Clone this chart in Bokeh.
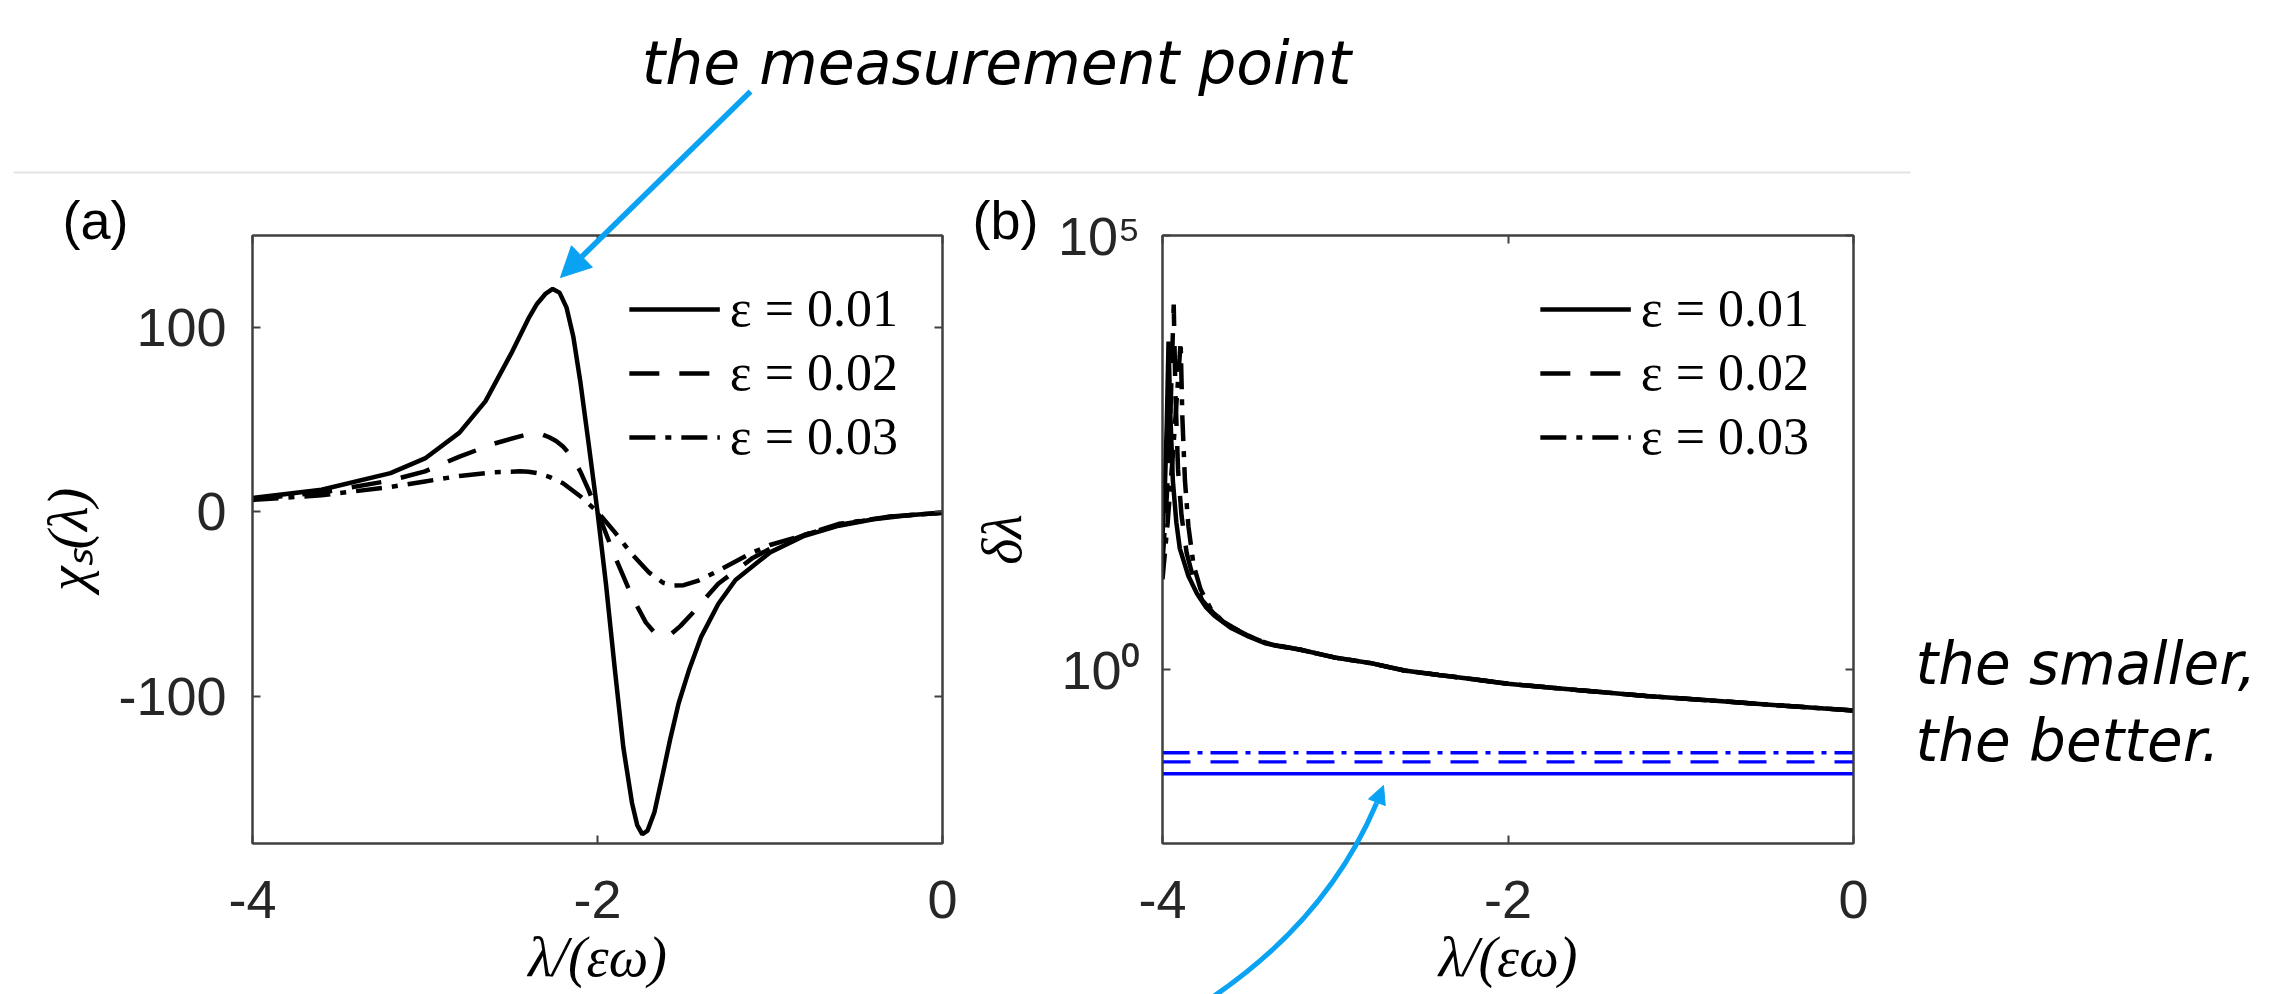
from bokeh.plotting import figure
from bokeh.layouts import column, row
from bokeh.models import (Range1d, LinearAxis, LogAxis, FixedTicker, Label, Arrow, NormalHead)
from bokeh.embed import file_html
from bokeh.resources import INLINE

# ---------------- data ----------------
legend_labels = ["ε = 0.01", "ε = 0.02", "ε = 0.03"]

# panel (a): chi_s(lambda)
lam_a_001 = [-4.0, -3.6, -3.2, -3.0, -2.8, -2.65, -2.5, -2.4, -2.35, -2.3, -2.26, -2.22, -2.18,
             -2.14, -2.1, -2.05, -2.0, -1.95, -1.9, -1.85, -1.8, -1.77, -1.74, -1.71, -1.67,
             -1.63, -1.58, -1.53, -1.47, -1.4, -1.3, -1.2, -1.0, -0.8, -0.6, -0.4, -0.2, 0.0]
chi_a_001 = [7.5, 12, 21, 29, 43, 60, 86, 105, 113, 118.5, 121, 119, 111,
             95, 71, 36, 0, -40, -85, -128, -158, -170, -175, -173, -163,
             -146, -124, -104, -86, -68, -50, -37, -22, -13, -7.5, -4, -1.8, -0.5]

lam_a_002 = [-4.0, -3.6, -3.2, -3.0, -2.8, -2.6, -2.45, -2.4, -2.36, -2.32, -2.28, -2.24, -2.2,
             -2.15, -2.1, -2.05, -2.0, -1.9, -1.8, -1.72, -1.67, -1.62, -1.57, -1.52, -1.45,
             -1.3, -1.1, -1.0, -0.8, -0.6, -0.3, 0.0]
chi_a_002 = [7, 10.5, 17, 22, 30, 37, 41, 42.2, 42.5, 42, 40.5, 38.5, 35.5,
             30, 22, 11.5, 0, -24, -46, -60, -65.5, -67, -66, -62, -55,
             -39, -25, -20, -12.5, -7, -2.5, -0.5]

lam_a_003 = [-4.0, -3.6, -3.2, -3.0, -2.8, -2.6, -2.5, -2.45, -2.4, -2.35, -2.28, -2.2, -2.1,
             -2.0, -1.9, -1.8, -1.7, -1.62, -1.56, -1.5, -1.42, -1.3, -1.1, -1.0, -0.8, -0.6,
             -0.3, 0.0]
chi_a_003 = [6.5, 9, 13.5, 16.5, 19.5, 21.5, 21.8, 22, 21.8, 21, 19, 15.5, 8.5,
             0, -11, -23, -33, -38.5, -40, -39.8, -37.5, -32, -22, -18, -12.5, -6.5,
             -2.5, -0.5]

# panel (b): delta lambda (log scale)
lam_b_001 = [-4.0, -3.985, -3.975, -3.965, -3.955, -3.94, -3.92, -3.9, -3.85, -3.8, -3.75, -3.7,
             -3.6, -3.5, -3.4, -3.2, -3.0, -2.8, -2.6, -2.4, -2.2, -2.0, -1.6, -1.2, -0.8, -0.4, 0.0]
dl_b_001 = [35, 150, 700, 6000, 900, 150, 50, 25, 12, 7.5, 5.3, 4.2,
            3.0, 2.4, 2.0, 1.7, 1.38, 1.2, 0.98, 0.87, 0.78, 0.69, 0.585, 0.50, 0.44, 0.385, 0.34]

lam_b_002 = [-4.0, -3.975, -3.955, -3.935, -3.925, -3.91, -3.89, -3.86, -3.82, -3.77, -3.7, -3.6,
             -3.5, -3.4, -3.2, -3.0, -2.8, -2.6, -2.4, -2.2, -2.0, -1.6, -1.2, -0.8, -0.4, 0.0]
dl_b_002 = [17, 100, 800, 16000, 1500, 200, 60, 22, 11, 6.3, 4.4, 3.1,
            2.45, 2.02, 1.7, 1.38, 1.2, 0.98, 0.87, 0.78, 0.69, 0.585, 0.50, 0.44, 0.385, 0.34]

lam_b_003 = [-4.0, -3.97, -3.94, -3.905, -3.895, -3.885, -3.87, -3.85, -3.82, -3.78, -3.72, -3.65,
             -3.55, -3.45, -3.35, -3.2, -3.0, -2.8, -2.6, -2.4, -2.2, -2.0, -1.6, -1.2, -0.8, -0.4, 0.0]
dl_b_003 = [11, 50, 300, 3000, 6000, 800, 150, 45, 16, 8.5, 5.0, 3.6,
            2.75, 2.2, 1.9, 1.7, 1.38, 1.2, 0.98, 0.87, 0.78, 0.69, 0.585, 0.50, 0.44, 0.385, 0.34]

# bounds (blue horizontal lines) in panel (b)
lam_bound = [-4.0, 0.0]
bound_001 = [0.0635, 0.0635]
bound_002 = [0.087, 0.087]
bound_003 = [0.111, 0.111]

# ticks
x_ticks = [-4, -2, 0]
x_tick_labels = ["-4", "-2", "0"]
a_y_ticks = [-100, 0, 100]
a_y_tick_labels = ["-100", "0", "100"]
b_y_ticks = [1, 100000]
b_y_tick_labels = ["10⁰", "10⁵"]

# ---------------- page geometry (pixels) ----------------
PAGE_W, PAGE_H = 2285, 994
FRAME_TOP, FRAME_BOTTOM = 235, 843
A_LEFT, A_RIGHT = 252, 942
SPLIT = 958
B_LEFT, B_RIGHT = 1162, 1853


def a_x(px):
    return -4 + (px - A_LEFT) / (A_RIGHT - A_LEFT) * 4


def a_y(py):
    return 150 - (py - FRAME_TOP) / (FRAME_BOTTOM - FRAME_TOP) * 330


def b_x(px):
    return -4 + (px - B_LEFT) / (B_RIGHT - B_LEFT) * 4


def b_y(py):
    return 10 ** (5 - (py - FRAME_TOP) / (FRAME_BOTTOM - FRAME_TOP) * 7)


# ---------------- styling ----------------
AX_COL = "#404040"
TXT_COL = "#262626"
TICK_FONT = "Liberation Sans"
SERIF = "Liberation Serif"
NOTE_FONT = "DejaVu Sans"
ARROW_COL = "#0AA2F2"
SEP_COL = "#e3e3e3"
BLACK_DASH = ["solid", "30 20", "26 10 6 10"]
BLUE_DASH = ["solid", "28 20", "27 8 5 8"]
LW = 4.5


def style_axis(ax, ticks, labels=None, show_labels=True):
    ax.ticker = FixedTicker(ticks=ticks)
    ax.axis_line_color = AX_COL
    ax.axis_line_width = 2
    ax.major_tick_line_color = AX_COL
    ax.major_tick_line_width = 2
    ax.major_tick_in = 8
    ax.major_tick_out = 0
    ax.minor_tick_line_color = None
    ax.major_label_text_font = TICK_FONT
    if show_labels:
        ax.major_label_text_color = TXT_COL
        ax.major_label_text_font_size = "54px"
        ax.major_label_overrides = {t: l for t, l in zip(ticks, labels)}
    else:
        ax.major_label_text_color = None
        ax.major_label_text_font_size = "2px"
        ax.major_label_standoff = 0


def base_fig(width, left, right, y_range, log=False):
    p = figure(width=width, height=PAGE_H, x_range=Range1d(-4, 0), y_range=y_range,
               y_axis_type="log" if log else "linear", title=None,
               output_backend="svg", toolbar_location=None,
               min_border_left=left, min_border_right=right,
               min_border_top=FRAME_TOP, min_border_bottom=PAGE_H - FRAME_BOTTOM)
    p.grid.visible = False
    p.outline_line_color = AX_COL
    p.outline_line_width = 2
    p.background_fill_color = "white"
    p.border_fill_color = "white"
    return p


def setup_legend(p):
    lg = p.legend[0]
    lg.location = "top_right"
    lg.margin = 44
    lg.padding = 2
    lg.spacing = 5
    lg.glyph_width = 91
    lg.glyph_height = 56
    lg.label_height = 56
    lg.label_standoff = 10
    lg.background_fill_alpha = 0
    lg.border_line_color = None
    lg.label_text_font = SERIF
    lg.label_text_font_size = "52px"
    lg.label_text_color = "black"


def side_label(p, side, x, y, text, font, size, style="normal", align="left", baseline="middle"):
    p.add_layout(Label(x=x, y=y, text=text, text_font=font, text_font_size=size,
                       text_font_style=style, text_align=align, text_baseline=baseline,
                       text_color="black"), side)


# ---------------- panel (a) ----------------
pa = base_fig(SPLIT, A_LEFT, SPLIT - A_RIGHT, Range1d(-180, 150))

style_axis(pa.xaxis[0], x_ticks, x_tick_labels)
pa.xaxis[0].major_label_standoff = 37
ya = pa.yaxis[0]
style_axis(ya, a_y_ticks, a_y_tick_labels)
ya.major_label_standoff = 26
ya.axis_label = "χₛ(λ)"
ya.axis_label_text_font = SERIF
ya.axis_label_text_font_style = "italic"
ya.axis_label_text_font_size = "56px"
ya.axis_label_text_color = "black"
ya.axis_label_standoff = 16

ra = LinearAxis()
style_axis(ra, a_y_ticks, show_labels=False)
pa.add_layout(ra, "right")
ta = LinearAxis()
style_axis(ta, x_ticks, show_labels=False)
pa.add_layout(ta, "above")

for lam, chi, dash, lab in [(lam_a_001, chi_a_001, BLACK_DASH[0], legend_labels[0]),
                            (lam_a_002, chi_a_002, BLACK_DASH[1], legend_labels[1]),
                            (lam_a_003, chi_a_003, BLACK_DASH[2], legend_labels[2])]:
    pa.line(lam, chi, line_color="black", line_width=LW, line_dash=dash, legend_label=lab)
setup_legend(pa)

side_label(pa, "above", a_x(62), a_y(219), "(a)", TICK_FONT, "54px")
side_label(pa, "above", a_x((A_LEFT + A_RIGHT) / 2), a_y(956), "λ/(εω)", SERIF, "56px",
           style="italic", align="center")

# ---------------- panel (b) ----------------
pb = base_fig(PAGE_W - SPLIT, B_LEFT - SPLIT, PAGE_W - B_RIGHT, Range1d(1e-2, 1e5), log=True)

style_axis(pb.xaxis[0], x_ticks, x_tick_labels)
pb.xaxis[0].major_label_standoff = 37
yb = pb.yaxis[0]
style_axis(yb, b_y_ticks, b_y_tick_labels)
yb.major_label_standoff = 22
yb.axis_label = "δλ"
yb.axis_label_text_font = SERIF
yb.axis_label_text_font_style = "italic"
yb.axis_label_text_font_size = "56px"
yb.axis_label_text_color = "black"
yb.axis_label_standoff = 22

rb = LogAxis()
style_axis(rb, b_y_ticks, show_labels=False)
pb.add_layout(rb, "right")
tb = LinearAxis()
style_axis(tb, x_ticks, show_labels=False)
pb.add_layout(tb, "above")

for yv, dash in [(bound_001, BLUE_DASH[0]), (bound_002, BLUE_DASH[1]), (bound_003, BLUE_DASH[2])]:
    pb.line(lam_bound, yv, line_color="#0000FF", line_width=3.4, line_dash=dash)

for lam, dl, dash, lab in [(lam_b_001, dl_b_001, BLACK_DASH[0], legend_labels[0]),
                           (lam_b_002, dl_b_002, BLACK_DASH[1], legend_labels[1]),
                           (lam_b_003, dl_b_003, BLACK_DASH[2], legend_labels[2])]:
    pb.line(lam, dl, line_color="black", line_width=LW, line_dash=dash, legend_label=lab)
setup_legend(pb)

side_label(pb, "above", b_x(972), b_y(219), "(b)", TICK_FONT, "54px")
side_label(pb, "above", b_x((B_LEFT + B_RIGHT) / 2), b_y(956), "λ/(εω)", SERIF, "56px",
           style="italic", align="center")

# ---------------- transparent overlay for the slide annotations (page pixels) ----------------
ov = figure(width=PAGE_W, height=PAGE_H, x_range=Range1d(0, PAGE_W), y_range=Range1d(PAGE_H, 0),
            x_axis_location=None, y_axis_location=None, min_border=0, title=None,
            output_backend="svg", toolbar_location=None,
            styles={"position": "absolute", "left": "0px", "top": "0px",
                    "pointer-events": "none"})
ov.outline_line_color = None
ov.background_fill_color = None
ov.border_fill_color = None
ov.grid.visible = False


def ov_text(x, y, text, size):
    ov.add_layout(Label(x=x, y=y, text=text, text_font=NOTE_FONT, text_font_size=size,
                        text_font_style="italic", text_align="left",
                        text_baseline="alphabetic", text_color="black"))


ov.add_layout(Label(x=996, y=62, text="the measurement point", text_font=NOTE_FONT,
                    text_font_size="60px", text_font_style="italic", text_align="center",
                    text_baseline="alphabetic", text_color="black"))
ov_text(1915, 663, "the smaller,", "58px")
ov_text(1915, 740, "the better.", "58px")

# thin separator under the title
ov.add_layout(Arrow(x_start=13, y_start=172, x_end=1910, y_end=172, start=None, end=None,
                    line_color=SEP_COL, line_width=2))
# arrow to the measurement point
ov.add_layout(Arrow(x_start=750, y_start=91, x_end=560, y_end=277, start=None,
                    end=NormalHead(size=30, fill_color=ARROW_COL, line_color=ARROW_COL),
                    line_color=ARROW_COL, line_width=5.5))

# curved arrow pointing to the bounds: quadratic curve + arrow head
P0, C, P2 = (1207.0, 1000.0), (1335.0, 915.0), (1383.0, 785.0)
T_END = 0.93
Cm = (P0[0] + T_END * (C[0] - P0[0]), P0[1] + T_END * (C[1] - P0[1]))
Bm = ((1 - T_END) ** 2 * P0[0] + 2 * T_END * (1 - T_END) * C[0] + T_END ** 2 * P2[0],
      (1 - T_END) ** 2 * P0[1] + 2 * T_END * (1 - T_END) * C[1] + T_END ** 2 * P2[1])
ov.quadratic(x0=[P0[0]], y0=[P0[1]], x1=[Bm[0]], y1=[Bm[1]], cx=[Cm[0]], cy=[Cm[1]],
             line_color=ARROW_COL, line_width=5)
ov.add_layout(Arrow(x_start=Bm[0], y_start=Bm[1], x_end=P2[0], y_end=P2[1], start=None,
                    end=NormalHead(size=18, fill_color=ARROW_COL, line_color=ARROW_COL),
                    line_color=ARROW_COL, line_width=5))

layout = column(row(pa, pb), ov)
open("out.html", "w").write(file_html(layout, INLINE, title="chi_s and delta lambda"))
